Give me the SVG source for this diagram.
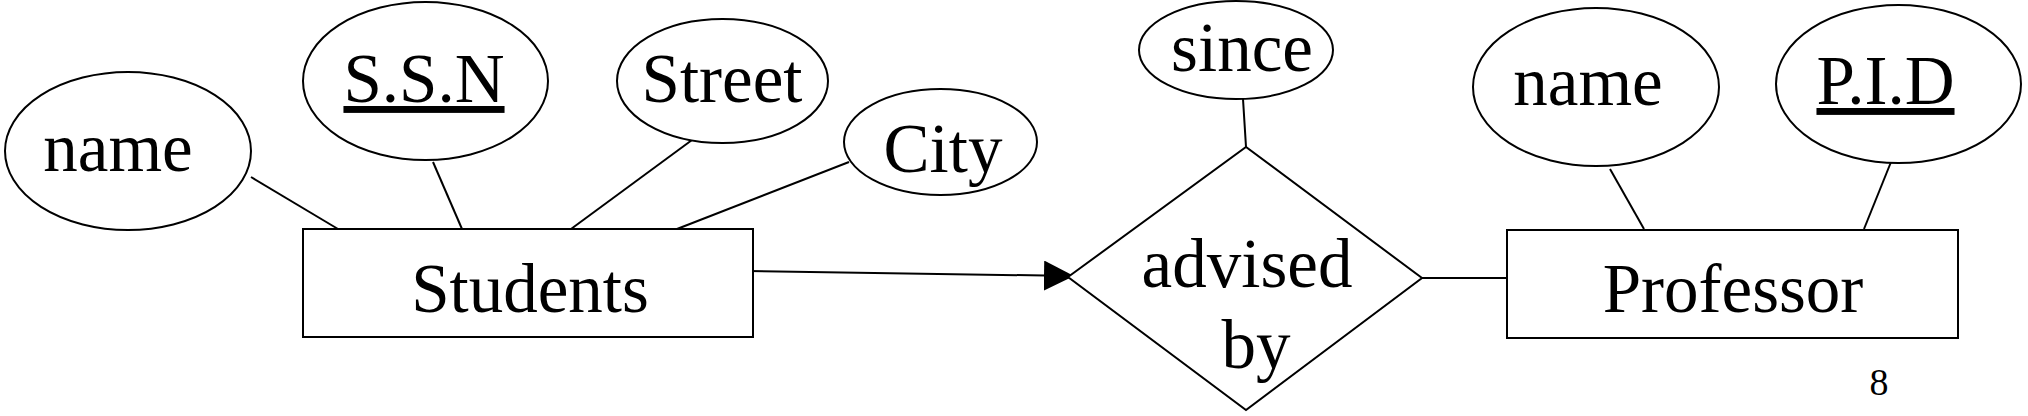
<svg xmlns="http://www.w3.org/2000/svg" width="2028" height="416" viewBox="0 0 2028 416">
<style>
.shape{fill:#fff;stroke:#000;stroke-width:2}
.lbl{font-family:"Liberation Serif","Times New Roman",serif;font-size:69px;fill:#000;text-anchor:middle}
.key{text-decoration:underline}
.conn line{stroke:#000;stroke-width:2}
.pg{font-family:"Liberation Serif","Times New Roman",serif;font-size:38px;fill:#000;text-anchor:middle}
</style>
<defs>
<marker id="arr" markerUnits="userSpaceOnUse" markerWidth="30" markerHeight="30" viewBox="0 0 28 28" refX="28" refY="14" orient="auto">
<path d="M0,0 L28,14 L0,28 Z" fill="#000"/>
</marker>
</defs>
<rect width="2028" height="416" fill="#fff"/>
<g id="connectors" class="conn">
<line x1="251" y1="177" x2="338" y2="229"/>
<line x1="433" y1="162" x2="462" y2="229"/>
<line x1="692" y1="140" x2="571" y2="229"/>
<line x1="849" y1="162" x2="677" y2="229"/>
<line x1="748" y1="271" x2="1074" y2="276" marker-end="url(#arr)"/>
<line x1="1243" y1="99" x2="1246" y2="147"/>
<line x1="1422" y1="278" x2="1507" y2="278"/>
<line x1="1610" y1="169" x2="1644" y2="229"/>
<line x1="1891" y1="162" x2="1864" y2="229"/>
</g>
<g id="students">
<rect class="shape" x="303" y="229" width="450" height="108"/>
<text class="lbl" x="530" y="312">Students</text>
</g>
<g id="s-name">
<ellipse class="shape" cx="128" cy="151" rx="123" ry="79"/>
<text class="lbl" x="118" y="171">name</text>
</g>
<g id="s-ssn">
<ellipse class="shape" cx="425.5" cy="81" rx="122.5" ry="79"/>
<text class="lbl key" x="424" y="102">S.S.N</text>
</g>
<g id="s-street">
<ellipse class="shape" cx="722.5" cy="81" rx="105.5" ry="62"/>
<text class="lbl" x="722" y="102">Street</text>
</g>
<g id="s-city">
<ellipse class="shape" cx="940.5" cy="142" rx="96.5" ry="53"/>
<text class="lbl" x="943" y="172">City</text>
</g>
<g id="advised-by">
<polygon class="shape" points="1068,277 1246,147 1422,278 1246,410"/>
<text class="lbl" x="1247" y="287">advised</text>
<text class="lbl" x="1256" y="368">by</text>
</g>
<g id="since">
<ellipse class="shape" cx="1236" cy="50" rx="97" ry="49"/>
<text class="lbl" x="1242" y="71">since</text>
</g>
<g id="professor">
<rect class="shape" x="1507" y="230" width="451" height="108"/>
<text class="lbl" x="1733" y="312">Professor</text>
</g>
<g id="p-name">
<ellipse class="shape" cx="1596" cy="87" rx="123" ry="79"/>
<text class="lbl" x="1588" y="105">name</text>
</g>
<g id="p-pid">
<ellipse class="shape" cx="1898.5" cy="84" rx="122.5" ry="79"/>
<text class="lbl key" x="1885.5" y="104">P.I.D</text>
</g>
<text class="pg" x="1879" y="395">8</text>
</svg>
